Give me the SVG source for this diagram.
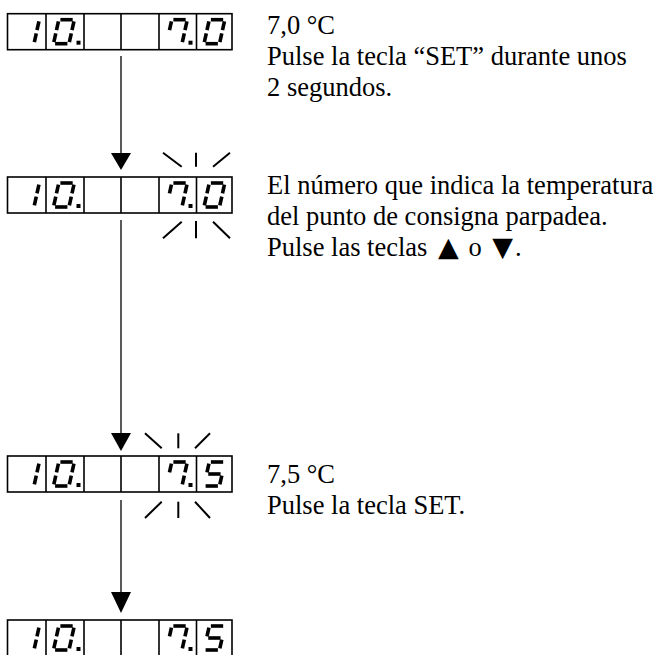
<svg xmlns="http://www.w3.org/2000/svg" xmlns:xlink="http://www.w3.org/1999/xlink" width="659" height="655" viewBox="0 0 659 655">
<style>
  .frame{fill:#fff;stroke:#000;stroke-width:1.6}
  .divider{stroke:#000;stroke-width:1.6}
  .seg{stroke:#000;stroke-width:3.6;fill:none;stroke-linecap:butt}
  .dot{fill:#000}
  .blink{stroke:#000;stroke-width:2;fill:none}
  .conn{stroke:#000;stroke-width:1.3;fill:none}
  .head{fill:#000}
  .label{font-family:"Liberation Serif","Times New Roman",serif;font-size:26.5px;fill:#000}
  .sym{font-family:"DejaVu Sans",sans-serif;font-size:27px}
</style>
<defs>
  <g id="frame">
    <rect class="frame" x="7.5" y="0" width="224.5" height="36"/>
    <line class="divider" x1="46" y1="0" x2="46" y2="36"/>
    <line class="divider" x1="84" y1="0" x2="84" y2="36"/>
    <line class="divider" x1="121" y1="0" x2="121" y2="36"/>
    <line class="divider" x1="159" y1="0" x2="159" y2="36"/>
    <line class="divider" x1="196.5" y1="0" x2="196.5" y2="36"/>
  </g>
  <line id="sa" x1="14.38" y1="6" x2="26.68" y2="6"/>
  <line id="sb" x1="27.93" y1="7.6" x2="25.99" y2="16.4"/>
  <line id="sc" x1="25.29" y1="19.6" x2="23.35" y2="28.4"/>
  <line id="sd" x1="9.1" y1="30" x2="21.4" y2="30"/>
  <line id="se" x1="9.79" y1="19.6" x2="7.85" y2="28.4"/>
  <line id="sf" x1="12.43" y1="7.6" x2="10.49" y2="16.4"/>
  <line id="sg" x1="11.74" y1="18" x2="24.04" y2="18"/>
  <g id="d0" class="seg">
    <use xlink:href="#sa" href="#sa"/><use xlink:href="#sb" href="#sb"/><use xlink:href="#sc" href="#sc"/>
    <use xlink:href="#sd" href="#sd"/><use xlink:href="#se" href="#se"/><use xlink:href="#sf" href="#sf"/>
  </g>
  <g id="d1" class="seg">
    <use xlink:href="#sb" href="#sb"/><use xlink:href="#sc" href="#sc"/>
  </g>
  <g id="d7" class="seg">
    <use xlink:href="#sa" href="#sa"/><use xlink:href="#sb" href="#sb"/><use xlink:href="#sc" href="#sc"/><use xlink:href="#sf" href="#sf"/>
  </g>
  <g id="d5" class="seg">
    <use xlink:href="#sa" href="#sa"/><use xlink:href="#sf" href="#sf"/><use xlink:href="#sg" href="#sg"/>
    <use xlink:href="#sc" href="#sc"/><use xlink:href="#sd" href="#sd"/>
  </g>
  <rect id="dp" class="dot" x="0" y="27" width="4" height="4"/>
</defs>

<g id="connectors">
  <line class="conn" x1="121" y1="56" x2="121" y2="154"/>
  <polygon class="head" points="111,153 131,153 121,170"/>
  <line class="conn" x1="121" y1="220" x2="121" y2="434"/>
  <polygon class="head" points="111,433 131,433 121,451"/>
  <line class="conn" x1="121" y1="500" x2="121" y2="593"/>
  <polygon class="head" points="111,592 131,592 121,613"/>
</g>

<g id="display1" transform="translate(0,13.7)">
  <use xlink:href="#frame" href="#frame"/>
  <use xlink:href="#d1" href="#d1" x="11"/>
  <use xlink:href="#d0" href="#d0" x="46"/>
  <use xlink:href="#dp" href="#dp" x="76.5"/>
  <use xlink:href="#d7" href="#d7" x="159"/>
  <use xlink:href="#dp" href="#dp" x="188.5"/>
  <use xlink:href="#d0" href="#d0" x="196.5"/>
</g>

<g id="display2" transform="translate(0,177)">
  <use xlink:href="#frame" href="#frame"/>
  <use xlink:href="#d1" href="#d1" x="11"/>
  <use xlink:href="#d0" href="#d0" x="46"/>
  <use xlink:href="#dp" href="#dp" x="76.5"/>
  <use xlink:href="#d7" href="#d7" x="159"/>
  <use xlink:href="#dp" href="#dp" x="188.5"/>
  <use xlink:href="#d0" href="#d0" x="196.5"/>
</g>
<g id="blink2" class="blink">
  <line x1="163" y1="152.7" x2="181.7" y2="166.7"/>
  <line x1="196" y1="152.7" x2="196" y2="166.7"/>
  <line x1="213" y1="166.7" x2="230" y2="152.7"/>
  <line x1="163" y1="238.3" x2="181.7" y2="221.7"/>
  <line x1="196" y1="221" x2="196" y2="238.3"/>
  <line x1="213" y1="221.7" x2="230" y2="238.3"/>
</g>

<g id="display3" transform="translate(0,456)">
  <use xlink:href="#frame" href="#frame"/>
  <use xlink:href="#d1" href="#d1" x="11"/>
  <use xlink:href="#d0" href="#d0" x="46"/>
  <use xlink:href="#dp" href="#dp" x="76.5"/>
  <use xlink:href="#d7" href="#d7" x="159"/>
  <use xlink:href="#dp" href="#dp" x="188.5"/>
  <use xlink:href="#d5" href="#d5" x="196.5"/>
</g>
<g id="blink3" class="blink">
  <line x1="145" y1="433.3" x2="161.7" y2="448.3"/>
  <line x1="178.3" y1="433.3" x2="178.3" y2="448.3"/>
  <line x1="195" y1="448.3" x2="210" y2="433.3"/>
  <line x1="145" y1="518" x2="161.7" y2="501.7"/>
  <line x1="178.3" y1="501.7" x2="178.3" y2="518"/>
  <line x1="195" y1="501.7" x2="210" y2="518"/>
</g>

<g id="display4" transform="translate(0,620)">
  <use xlink:href="#frame" href="#frame"/>
  <use xlink:href="#d1" href="#d1" x="11"/>
  <use xlink:href="#d0" href="#d0" x="46"/>
  <use xlink:href="#dp" href="#dp" x="76.5"/>
  <use xlink:href="#d7" href="#d7" x="159"/>
  <use xlink:href="#dp" href="#dp" x="188.5"/>
  <use xlink:href="#d5" href="#d5" x="196.5"/>
</g>

<g id="note1">
  <text class="label" x="267" y="34">7,0 °C</text>
  <text class="label" x="267" y="65">Pulse la tecla “SET” durante unos</text>
  <text class="label" x="267" y="96">2 segundos.</text>
</g>
<g id="note2">
  <text class="label" x="267" y="194">El número que indica la temperatura</text>
  <text class="label" x="267" y="225">del punto de consigna parpadea.</text>
  <text class="label" x="267" y="256">Pulse las teclas <tspan class="sym" dx="4">▲</tspan> <tspan dx="3">o</tspan> <tspan class="sym" dx="4">▼</tspan><tspan dx="2">.</tspan></text>
</g>
<g id="note3">
  <text class="label" x="267" y="483">7,5 °C</text>
  <text class="label" x="267" y="514">Pulse la tecla SET.</text>
</g>
</svg>
